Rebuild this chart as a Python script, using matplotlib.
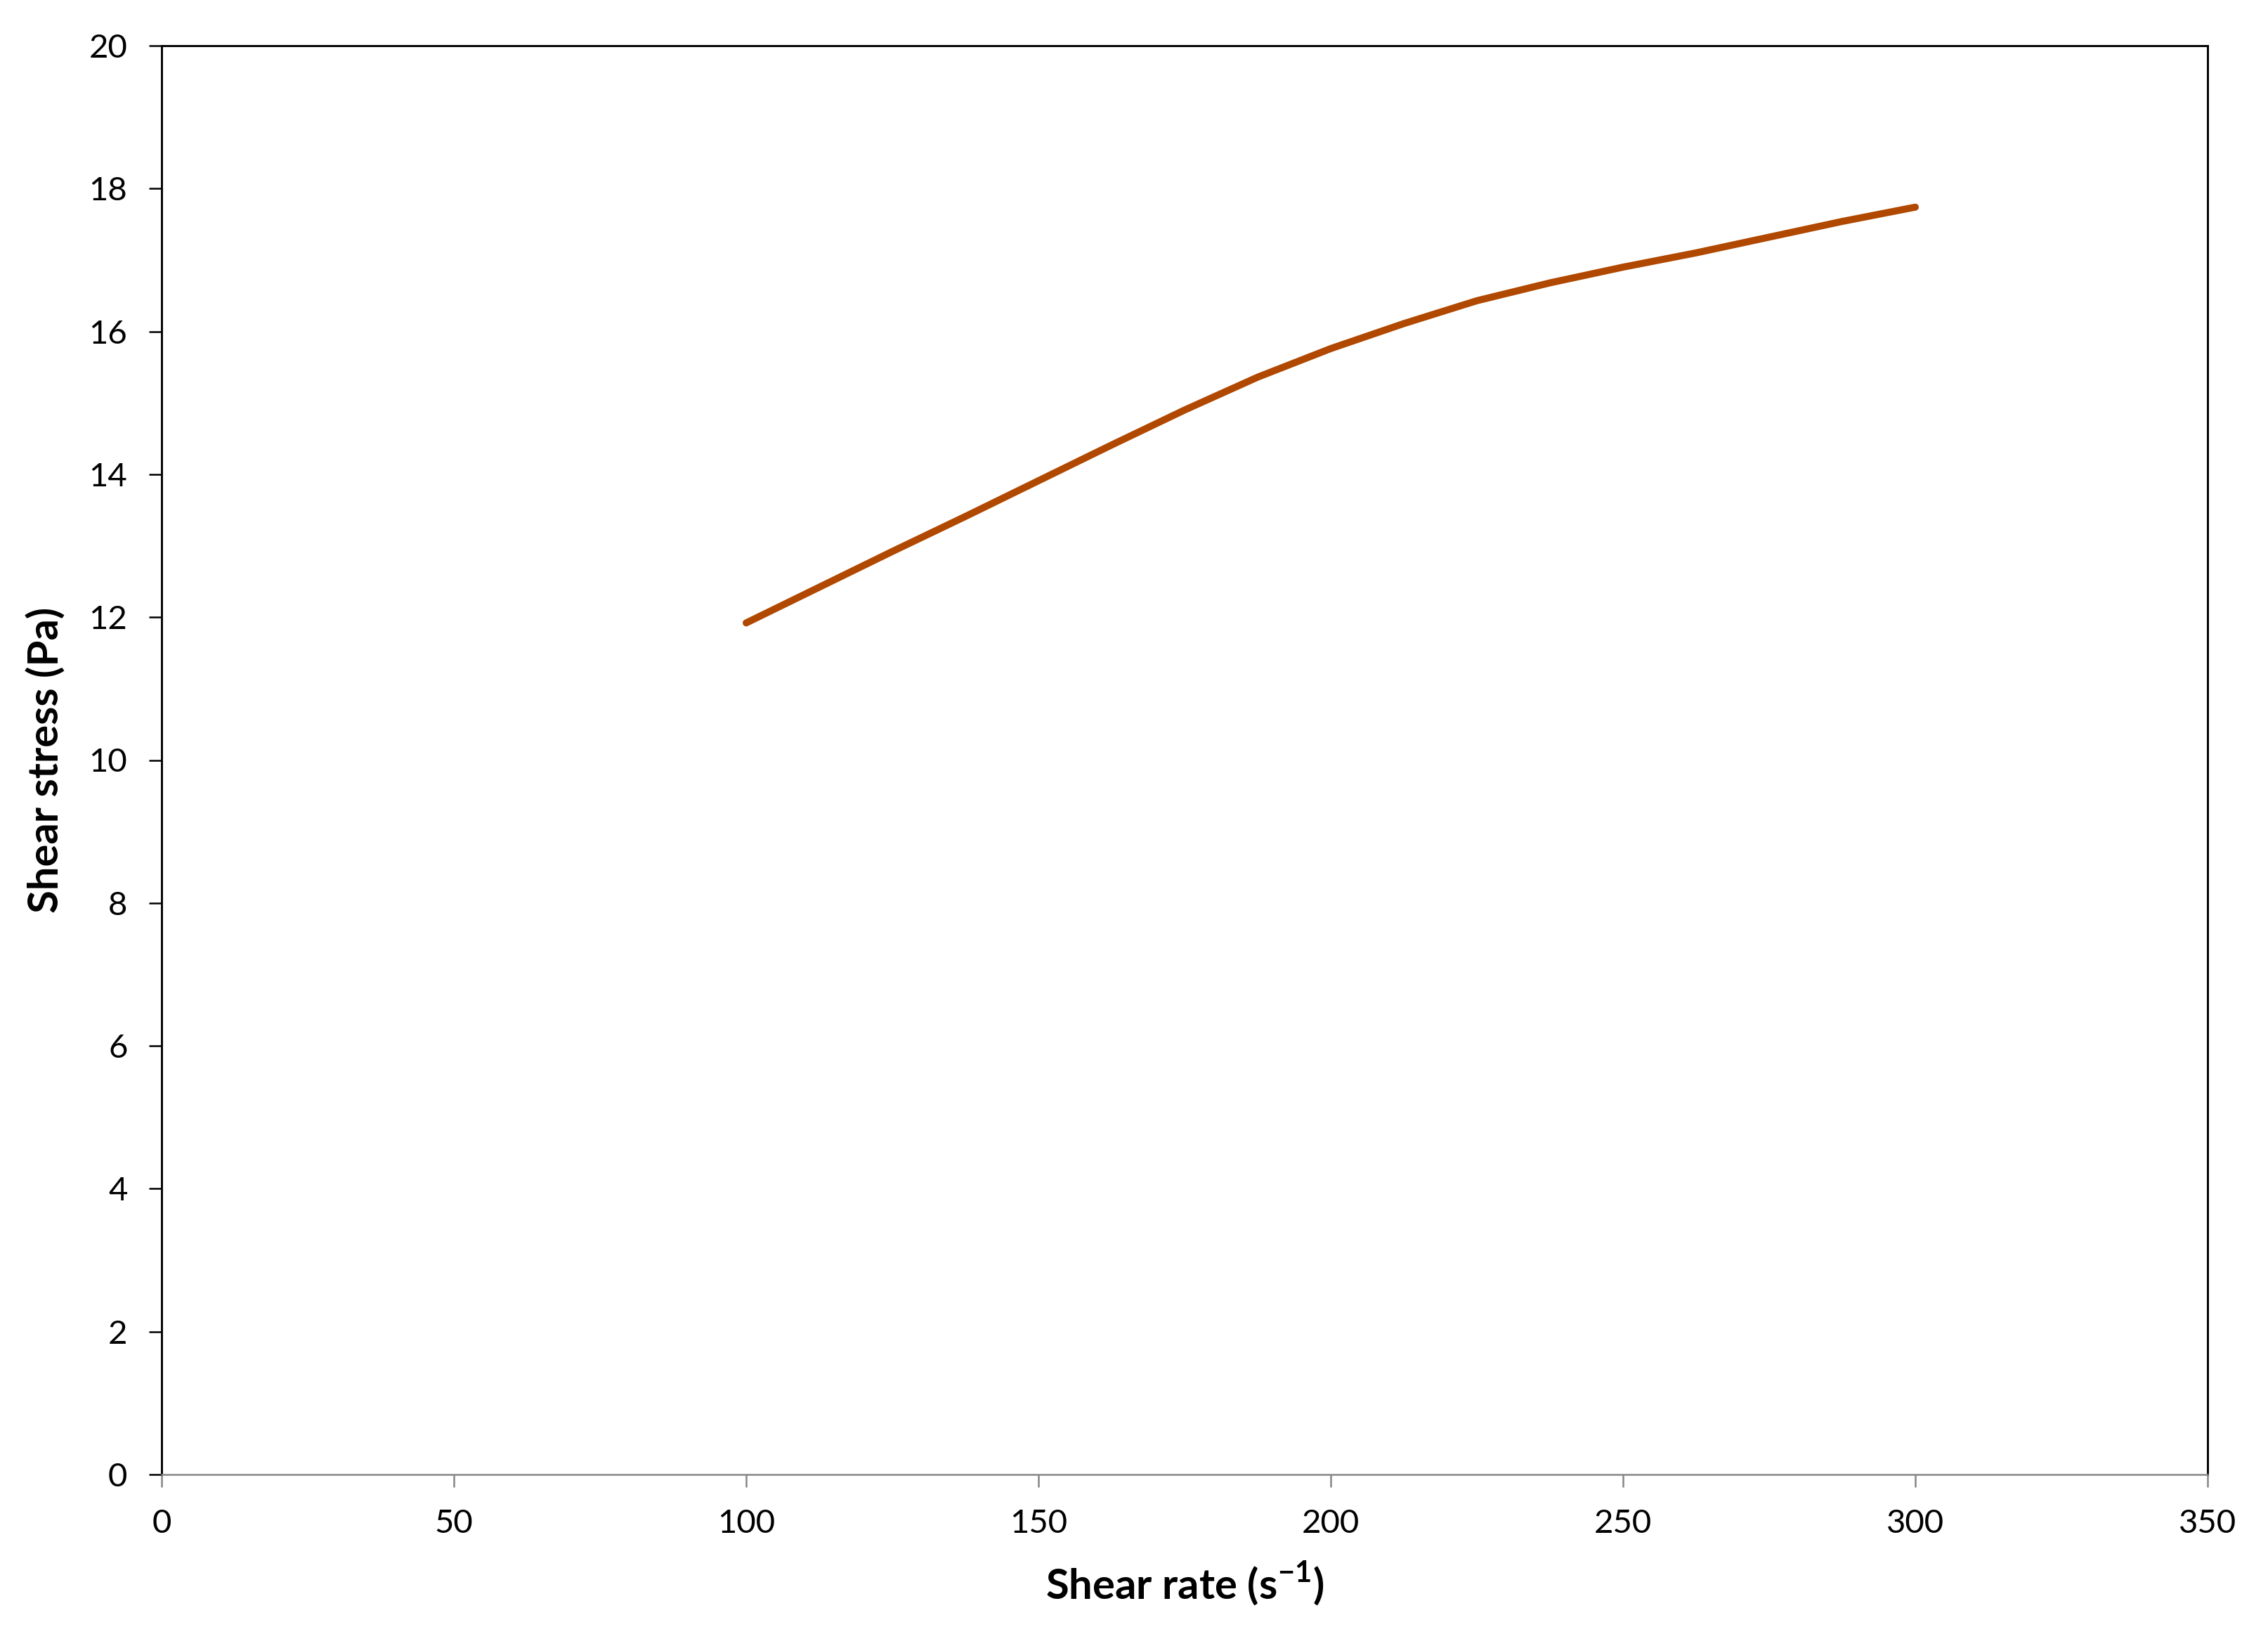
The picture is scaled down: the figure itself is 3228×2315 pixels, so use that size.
import matplotlib
matplotlib.use("Agg")
import matplotlib.pyplot as plt

shear_rate = [100, 112.5, 125, 137.5, 150, 162.5, 175, 187.5, 200,
              212.5, 225, 237.5, 250, 262.5, 275, 287.5, 300]
shear_stress = [11.92, 12.42, 12.92, 13.41, 13.91, 14.41, 14.90, 15.36, 15.76,
                16.11, 16.43, 16.68, 16.90, 17.10, 17.32, 17.54, 17.74]

x_ticks = [0, 50, 100, 150, 200, 250, 300, 350]
y_ticks = [0, 2, 4, 6, 8, 10, 12, 14, 16, 18, 20]

plt.rcParams['font.family'] = ['Lato', 'DejaVu Sans']

W, H = 3228, 2315
fig = plt.figure(figsize=(W / 100, H / 100), dpi=100)
left, right, top, bottom = 230, 3142, 65, 2098
ax = fig.add_axes([left / W, 1 - bottom / H, (right - left) / W, (bottom - top) / H])

ax.plot(shear_rate, shear_stress, color='#b04800', linewidth=7.2,
        solid_capstyle='round', solid_joinstyle='round')

ax.set_xlim(0, 350)
ax.set_ylim(0, 20)
ax.set_xticks(x_ticks)
ax.set_yticks(y_ticks)
ax.set_xticklabels([str(v) for v in x_ticks])
ax.set_yticklabels([str(v) for v in y_ticks])

for side in ['left', 'top', 'right']:
    ax.spines[side].set_color('black')
    ax.spines[side].set_linewidth(2.1)
ax.spines['bottom'].set_color('#868686')
ax.spines['bottom'].set_linewidth(1.8)

ax.tick_params(axis='y', direction='out', length=13, width=1.8, color='black',
               labelsize=34, pad=22, labelcolor='black')
ax.tick_params(axis='x', direction='out', length=13, width=1.8, color='#868686',
               labelsize=34, pad=22, labelcolor='black')

ax.set_xlabel('Shear rate (s$^{\\mathregular{-1}}$)', fontsize=43, fontweight='bold', labelpad=22)
ax.set_ylabel('Shear stress (Pa)', fontsize=43, fontweight='bold', labelpad=24)

fig.savefig('out.png', dpi=100, facecolor='white')
